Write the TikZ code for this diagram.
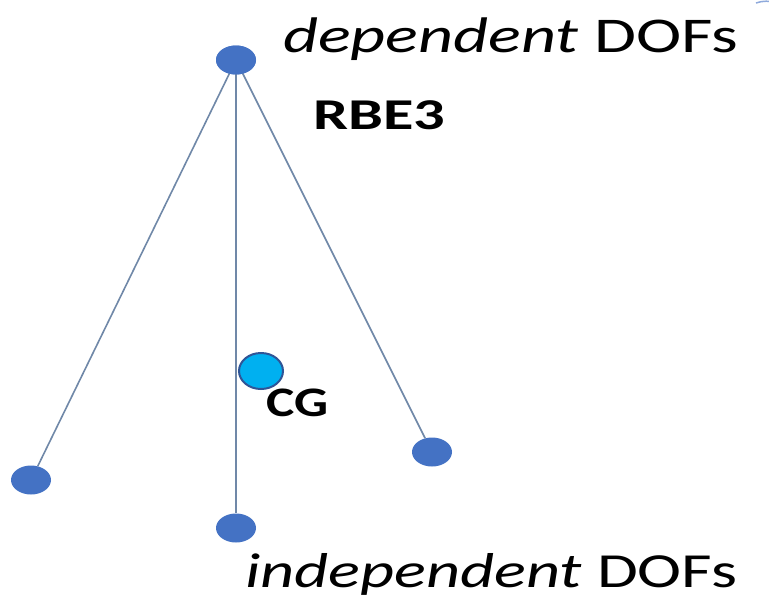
\documentclass[tikz,border=0pt]{standalone}
\usepackage{fontspec}
\setmainfont{Carlito}
\usepackage{graphicx}
\usetikzlibrary{shapes.geometric}
\definecolor{dotblue}{HTML}{4472C4}
\definecolor{cgblue}{HTML}{00B0F0}
\definecolor{cgedge}{HTML}{2F5597}
\definecolor{linkc}{HTML}{7088A8}
\begin{document}
\begin{tikzpicture}[x=1pt,y=-1pt,
  dot/.style={ellipse,fill=dotblue,draw=none,minimum width=40pt,minimum height=29pt,inner sep=0pt},
  link/.style={draw=linkc,line width=1.6pt},
  lbl/.style={inner sep=0pt,anchor=base west}]
\useasboundingbox (0,0) rectangle (769,606);
\fill[white] (0,0) rectangle (769,606);
\node[dot] (top) at (236,60) {};
\node[dot] (bl) at (31,480) {};
\node[dot] (bm) at (236,528) {};
\node[dot] (br) at (432,452) {};
\draw[link] (top.center) -- (bl);
\draw[link] (top.center) -- (bm);
\draw[link] (top.center) -- (br);
\node[dot] at (236,60) {};
\node[ellipse,fill=cgblue,draw=cgedge,line width=2pt,minimum width=44pt,minimum height=36pt,inner sep=0pt] (cg) at (261,371) {};
\node[lbl] (dep) at (283,52) {\resizebox{455pt}{\height}{\fontsize{50}{56}\selectfont\textit{dependent} DOFs}};
\node[lbl] (indep) at (245,587) {\resizebox{492pt}{\height}{\fontsize{49}{56}\selectfont\textit{independent} DOFs}};
\node[lbl] (rbe) at (313,129) {\resizebox{132pt}{\height}{\fontsize{44}{48}\selectfont\bfseries RBE3}};
\node[lbl] (cgl) at (266,416) {\resizebox{62pt}{\height}{\fontsize{42}{46}\selectfont\bfseries CG}};
\draw[dotblue!60,line width=1.5pt] (756,3) arc[start angle=250,end angle=290,radius=30];
\end{tikzpicture}
\end{document}
